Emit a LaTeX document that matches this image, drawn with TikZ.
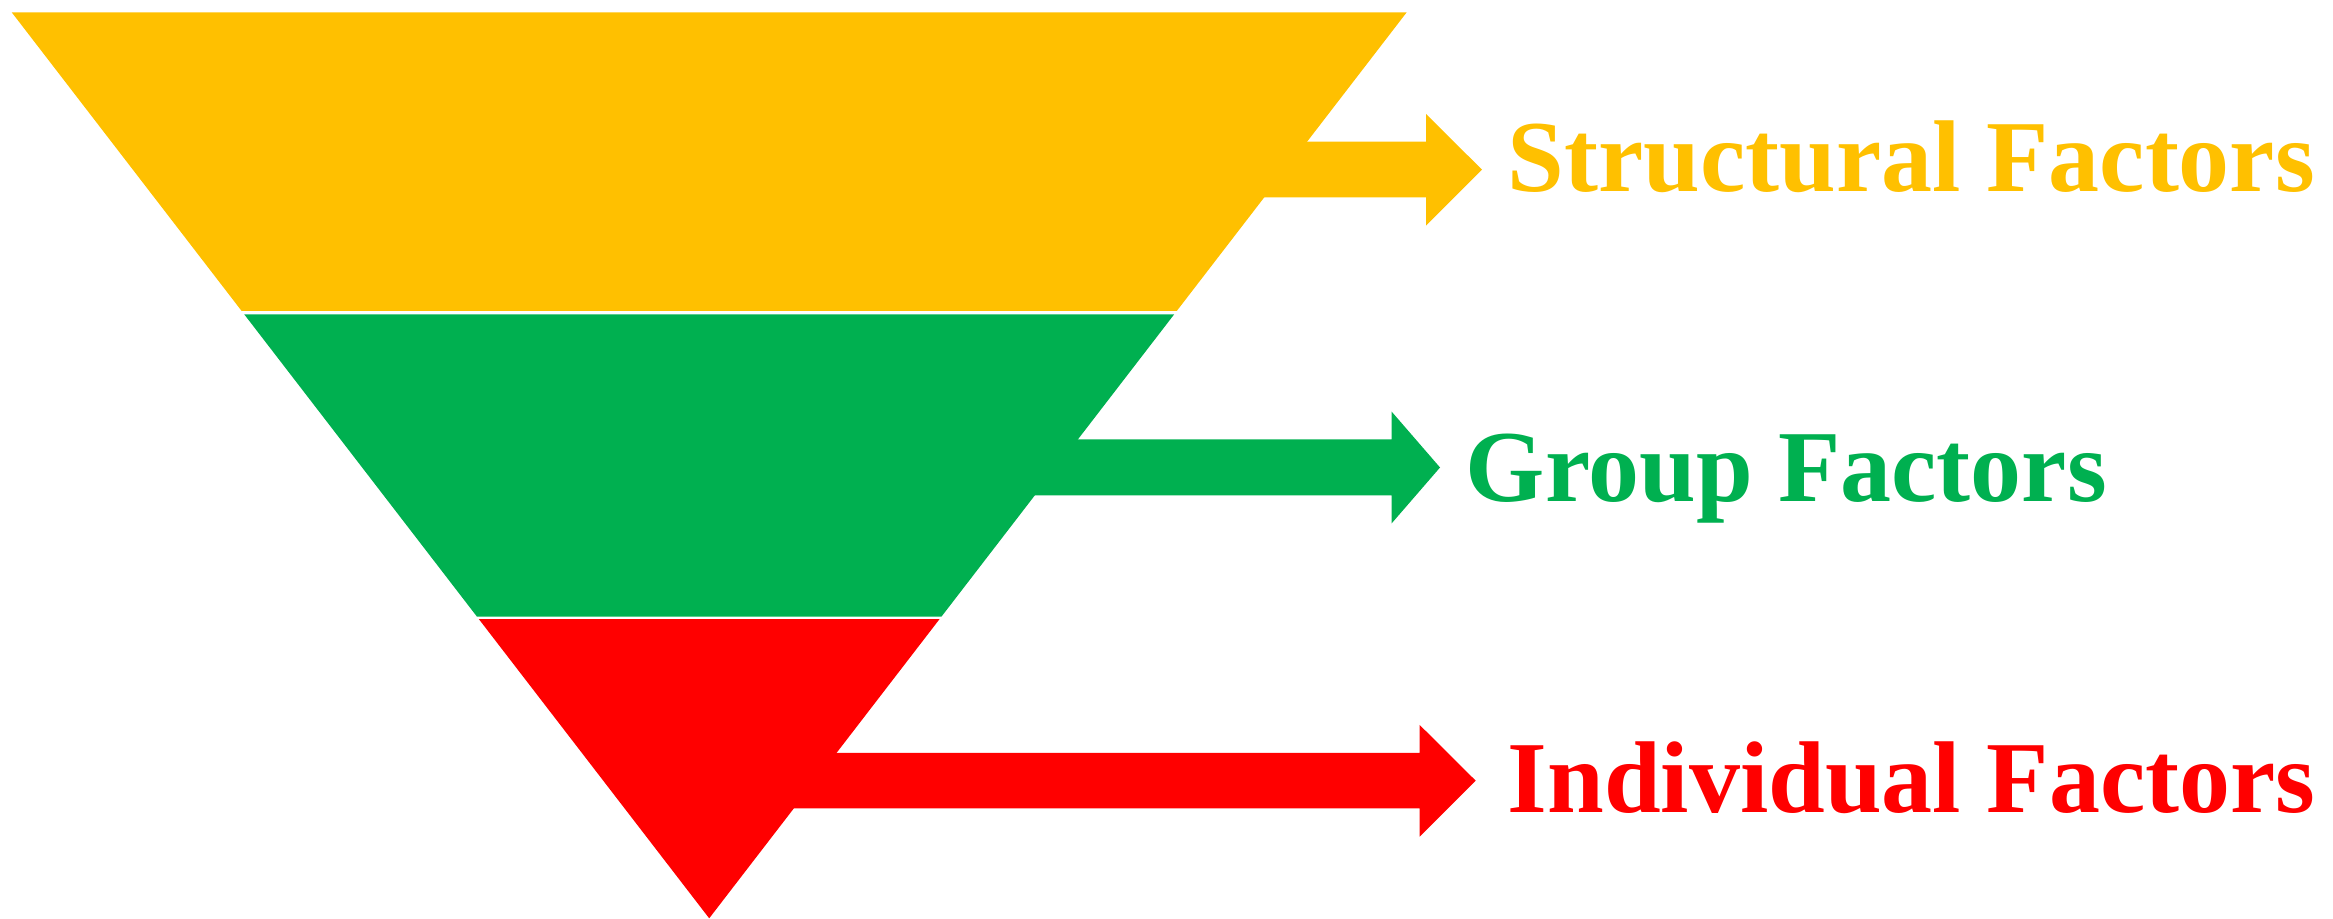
\documentclass[tikz,border=0pt]{standalone}
\usepackage{fontspec}
\setmainfont{Liberation Serif}
\usetikzlibrary{calc}
\definecolor{cyellow}{HTML}{FFC000}
\definecolor{cgreen}{HTML}{00B050}
\definecolor{cred}{HTML}{FF0000}
\begin{document}
\begin{tikzpicture}[x=0.01cm,y=-0.01cm,
  label/.style={anchor=base west,inner sep=0pt,font=\fontsize{29pt}{35pt}\selectfont\bfseries}]
\useasboundingbox (0,0) rectangle (2333,919);
\coordinate (TL) at (11.7,12.3);
\coordinate (TR) at (1406.7,12.3);
\coordinate (AP) at (709.2,918.3);
% band boundaries (fractions of height)
\coordinate (L1) at ($(TL)!0.3297!(AP)$);
\coordinate (R1) at ($(TR)!0.3297!(AP)$);
\coordinate (L2) at ($(TL)!0.3333!(AP)$);
\coordinate (R2) at ($(TR)!0.3333!(AP)$);
\coordinate (L3) at ($(TL)!0.6671!(AP)$);
\coordinate (R3) at ($(TR)!0.6671!(AP)$);
\coordinate (L4) at ($(TL)!0.6697!(AP)$);
\coordinate (R4) at ($(TR)!0.6697!(AP)$);
% bands
\fill[cyellow] (TL) -- (TR) -- (R1) -- (L1) -- cycle;
\fill[cgreen] (L2) -- (R2) -- (R3) -- (L3) -- cycle;
\fill[cred] (L4) -- (R4) -- (AP) -- cycle;
% arrows
\fill[cyellow] (709,141.7) -- (1426,141.7) -- (1426,114) -- (1482,169.7) -- (1426,225.7) -- (1426,197.3) -- (709,197.3) -- cycle;
\fill[cgreen] (709,439.3) -- (1391.7,439.3) -- (1391.7,411.7) -- (1440,467.5) -- (1391.7,523.3) -- (1391.7,495.3) -- (709,495.3) -- cycle;
\fill[cred] (709,753) -- (1419.7,753) -- (1419.7,725) -- (1475.7,780.7) -- (1419.7,836.7) -- (1419.7,808.3) -- (709,808.3) -- cycle;
% labels
\node[label,text=cyellow] (structural) at (1507,191.7) {Structural Factors};
\node[label,text=cgreen] (group) at (1465,501.7) {Group Factors};
\node[label,text=cred] (individual) at (1507,812) {Individual Factors};
\end{tikzpicture}
\end{document}
